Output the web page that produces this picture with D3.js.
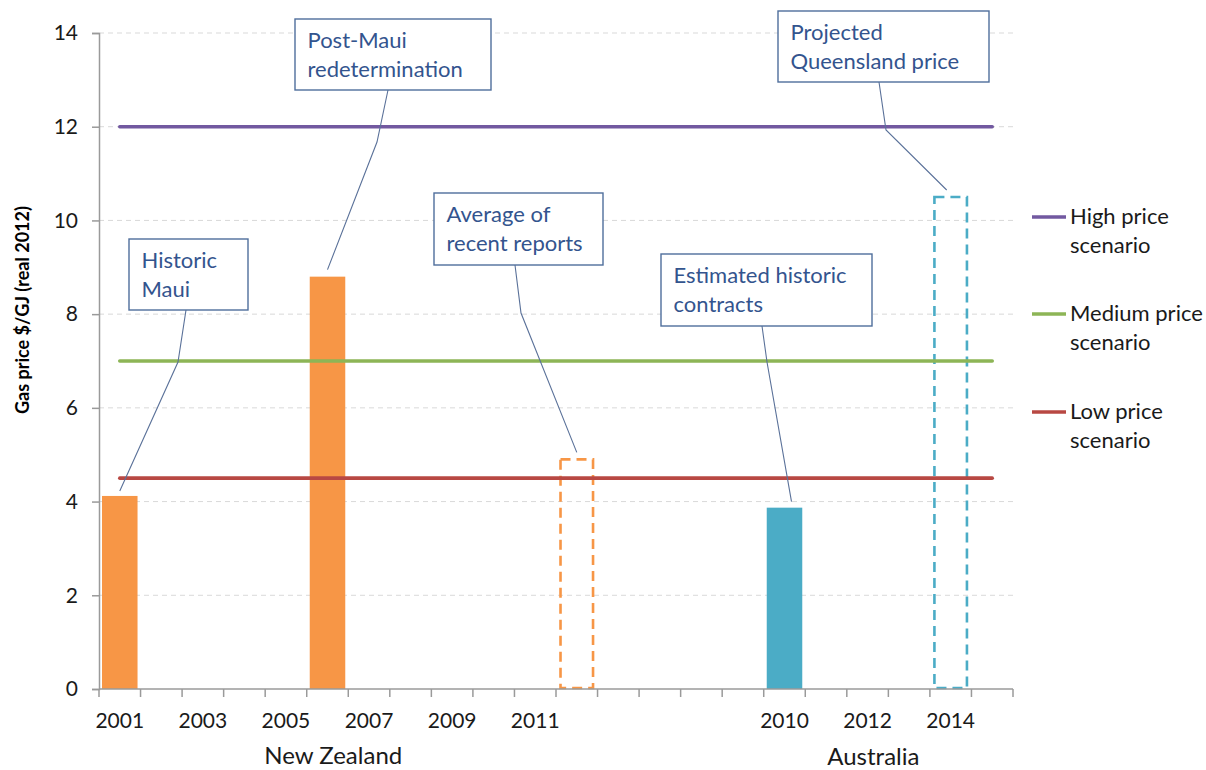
<!DOCTYPE html>
<html><head><meta charset="utf-8">
<script src="https://cdn.jsdelivr.net/npm/d3@7"></script>
<style>body{margin:0;background:#fff}svg{display:block;font-family:Lato,'Open Sans',sans-serif}</style>
</head><body><svg id="c" width="1206" height="770"></svg>
<script>
// ---- data ----
const categories = ["2001","2002","2003","2004","2005","2006","2007","2008","2009","2010","2011","2012",
                    "","","","",
                    "2010","2011","2012","2013","2014","2015"];
const groups = ["New Zealand","Australia"];
const groupStart = [0,16];
const groupEnd = [11,21];
const nzHistoric  = [4.12,null,null,null,null,8.8,null,null,null,null,null,null, null,null,null,null, null,null,null,null,null,null];
const nzReported  = [null,null,null,null,null,null,null,null,null,null,null,4.9, null,null,null,null, null,null,null,null,null,null];
const auHistoric  = [null,null,null,null,null,null,null,null,null,null,null,null, null,null,null,null, 3.87,null,null,null,null,null];
const auProjected = [null,null,null,null,null,null,null,null,null,null,null,null, null,null,null,null, null,null,null,null,10.5,null];
const highScenario   = [12,12,12,12,12,12,12,12,12,12,12,12,12,12,12,12,12,12,12,12,12,12];
const mediumScenario = [7,7,7,7,7,7,7,7,7,7,7,7,7,7,7,7,7,7,7,7,7,7];
const lowScenario    = [4.5,4.5,4.5,4.5,4.5,4.5,4.5,4.5,4.5,4.5,4.5,4.5,4.5,4.5,4.5,4.5,4.5,4.5,4.5,4.5,4.5,4.5];
const scenarioNames = [["High price","scenario"],["Medium price","scenario"],["Low price","scenario"]];
const yTicks = [0,2,4,6,8,10,12,14];
const yTitle = "Gas price $/GJ (real 2012)";
const calloutTexts = [["Historic","Maui"],["Post-Maui","redetermination"],["Average of","recent reports"],["Estimated historic","contracts"],["Projected","Queensland price"]];
const calloutTargets = [[0,nzHistoric],[5,nzHistoric],[11,nzReported],[16,auHistoric],[20,auProjected]];

// ---- layout ----
const L = 99, R = 1013, T = 33, B = 689;
const FONT = "Lato, 'Open Sans', sans-serif";
const svg = d3.select("#c");
const x = d3.scaleBand().domain(d3.range(categories.length)).range([L,R]).paddingInner(0.145).paddingOuter(0.0725);
const y = d3.scaleLinear().domain([0,14]).range([B,T]);
const cx = i => x(i) + x.bandwidth()/2;

// gridlines
svg.append("g").selectAll("line").data(yTicks.filter(d=>d>0)).join("line")
  .attr("x1",L).attr("x2",R).attr("y1",d=>y(d)).attr("y2",d=>y(d))
  .attr("stroke","#d9d9d9").attr("stroke-width",1).attr("stroke-dasharray","5,4");

// bars
const solid = [[nzHistoric,"#F79646"],[auHistoric,"#4BACC6"]];
solid.forEach(([arr,col])=>{
  svg.append("g").selectAll("rect").data(arr.map((v,i)=>({v,i})).filter(d=>d.v!=null)).join("rect")
    .attr("x",d=>x(d.i)).attr("width",x.bandwidth())
    .attr("y",d=>y(d.v)).attr("height",d=>y(0)-y(d.v)).attr("fill",col);
});
const dashed = [[nzReported,"#F79646"],[auProjected,"#4BACC6"]];
dashed.forEach(([arr,col])=>{
  svg.append("g").selectAll("rect").data(arr.map((v,i)=>({v,i})).filter(d=>d.v!=null)).join("rect")
    .attr("x",d=>x(d.i)+1.5).attr("width",x.bandwidth()-3)
    .attr("y",d=>y(d.v)).attr("height",d=>y(0)-y(d.v)-1)
    .attr("fill","none").attr("stroke",col).attr("stroke-width",2.6).attr("stroke-dasharray","10,6");
});

// scenario lines
const lineGen = d3.line().x((d,i)=>cx(i)).y(d=>y(d));
const lineCols = ["#7259a0","#8db556","#b84843"];
[highScenario,mediumScenario,lowScenario].forEach((arr,k)=>{
  svg.append("path").attr("d",lineGen(arr)).attr("fill","none")
    .attr("stroke",lineCols[k]).attr("stroke-width",3.6).attr("stroke-linecap","round");
});

// y axis
const yAxis = svg.append("g").attr("transform",`translate(${L},0)`)
  .call(d3.axisLeft(y).tickValues(yTicks).tickSize(7).tickPadding(14).tickFormat(d3.format("d")));
yAxis.select(".domain").attr("stroke","#9a9a9a").attr("stroke-width",1.5);
yAxis.selectAll(".tick line").attr("stroke","#9a9a9a").attr("stroke-width",1.5);
yAxis.selectAll(".tick text").attr("font-family",FONT).attr("font-size",21).attr("fill","#1a1a1a");

// x axis (manual: ticks at category boundaries)
const xa = svg.append("g");
xa.append("line").attr("x1",L).attr("x2",R).attr("y1",B).attr("y2",B).attr("stroke","#9a9a9a").attr("stroke-width",1.5);
xa.selectAll("line.t").data(d3.range(categories.length+1)).join("line").attr("class","t")
  .attr("x1",i=>L+i*x.step()).attr("x2",i=>L+i*x.step()).attr("y1",B).attr("y2",B+8)
  .attr("stroke","#9a9a9a").attr("stroke-width",1.5);
xa.selectAll("text.l").data(categories.map((c,i)=>({c,i})).filter(d=>d.i%2===0 && d.c)).join("text").attr("class","l")
  .attr("x",d=>cx(d.i)).attr("y",B+39).attr("text-anchor","middle")
  .attr("font-family",FONT).attr("font-size",21).attr("fill","#1a1a1a").text(d=>d.c);
xa.selectAll("text.g").data(groups.map((g,k)=>({g,k}))).join("text").attr("class","g")
  .attr("x",d=>(L+groupStart[d.k]*x.step() + L+(groupEnd[d.k]+1)*x.step())/2 - 15)
  .attr("y",(d)=>B+75+d.k).attr("text-anchor","middle")
  .attr("font-family",FONT).attr("font-size",24).attr("fill","#1a1a1a").text(d=>d.g);

// y title
svg.append("text").attr("transform",`translate(29,310) rotate(-90)`).attr("text-anchor","middle")
  .attr("font-family",FONT).attr("font-weight","bold").attr("font-size",18).attr("fill","#000").text(yTitle);

// legend
const leg = svg.append("g");
[217,314,412].forEach((ly,k)=>{
  leg.append("line").attr("x1",1032).attr("x2",1066).attr("y1",ly).attr("y2",ly)
    .attr("stroke",lineCols[k]).attr("stroke-width",3.6);
  scenarioNames[k].forEach((t,j)=>{
    leg.append("text").attr("x",1070).attr("y",ly+7+j*29).attr("font-family",FONT).attr("font-size",22)
      .attr("fill","#1a1a1a").text(t);
  });
});

// callouts
const boxes = [[129,239,119,71],[295,19,196,71],[434,193,169,72],[661,254,211,72],[778,11,211,71]];
const leaderStart = [[186,310],[388,90],[515,265],[762,326],[879,82]];
const leaderBend = [[178,362],[377,142],[521,313],[767,362],[886,130]];
const leaderOff = [[0,-5],[0,-7],[0,-7],[7,-6],[-4,-7]];
const cg = svg.append("g");
calloutTexts.forEach((lines,k)=>{
  const [i,arr] = calloutTargets[k];
  const end = [cx(i)+leaderOff[k][0], y(arr[i])+leaderOff[k][1]];
  cg.append("path").attr("d",d3.line()([leaderStart[k],leaderBend[k],end]))
    .attr("fill","none").attr("stroke","#5a7199").attr("stroke-width",1.1);
  const [bx,by,bw,bh] = boxes[k];
  cg.append("rect").attr("x",bx).attr("y",by).attr("width",bw).attr("height",bh)
    .attr("fill","#fff").attr("stroke","#4f6e9c").attr("stroke-width",1.4);
  lines.forEach((t,j)=>{
    cg.append("text").attr("x",bx+12.5).attr("y",by+29+j*29).attr("font-family",FONT).attr("font-size",22)
      .attr("fill","#33548e").text(t);
  });
});
</script></body></html>
